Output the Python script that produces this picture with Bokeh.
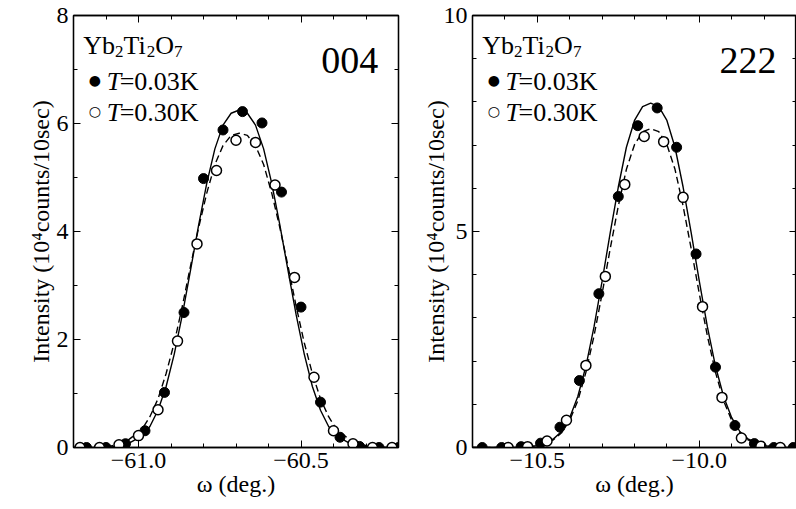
from bokeh.plotting import figure
from bokeh.layouts import row
from bokeh.models import SingleIntervalTicker, LinearAxis, Label, Range1d, CustomJSTickFormatter
from bokeh.embed import file_html
from bokeh.resources import INLINE

FONT = "Liberation Serif"

# ---------------- panel 004 ----------------
x_range_004 = (-61.2, -60.2)
y_range_004 = (0, 8)
filled_x_004 = [-61.16, -61.10, -61.04, -60.98, -60.92, -60.86, -60.80, -60.74, -60.68,
                -60.62, -60.56, -60.50, -60.44, -60.38, -60.32, -60.26, -60.20]
filled_y_004 = [0.0, 0.0, 0.07, 0.31, 1.02, 2.50, 4.98, 5.88, 6.22,
                6.01, 4.73, 2.60, 0.84, 0.19, 0.02, 0.0, 0.0]
open_x_004 = [-61.18, -61.12, -61.06, -61.00, -60.94, -60.88, -60.82, -60.76, -60.70,
              -60.64, -60.58, -60.52, -60.46, -60.40, -60.34, -60.28, -60.22]
open_y_004 = [0.0, 0.0, 0.05, 0.22, 0.70, 1.97, 3.77, 5.13, 5.69,
              5.65, 4.86, 3.15, 1.30, 0.31, 0.07, 0.0, 0.0]
fit_x_004 = [-61.2, -61.14, -61.09, -61.04, -60.99, -60.965, -60.94, -60.915, -60.89, -60.865,
             -60.84, -60.815, -60.79, -60.765, -60.74, -60.715, -60.69, -60.665, -60.64, -60.615,
             -60.59, -60.565, -60.54, -60.515, -60.49, -60.465, -60.44, -60.415, -60.39, -60.34,
             -60.29, -60.24, -60.2]
fit_solid_004 = [0, 0, 0.007, 0.045, 0.21, 0.39, 0.69, 1.13, 1.73, 2.46,
                 3.28, 4.12, 4.89, 5.53, 5.97, 6.19, 6.25, 6.19, 5.97, 5.53,
                 4.89, 4.12, 3.28, 2.46, 1.73, 1.13, 0.69, 0.39, 0.21, 0.045,
                 0.007, 0, 0]
fit_dashed_004 = [0, 0, 0.02, 0.10, 0.33, 0.57, 0.90, 1.37, 1.94, 2.62,
                  3.36, 4.07, 4.71, 5.24, 5.59, 5.78, 5.82, 5.78, 5.59, 5.24,
                  4.71, 4.07, 3.36, 2.62, 1.94, 1.37, 0.90, 0.57, 0.33, 0.10,
                  0.02, 0, 0]

# ---------------- panel 222 ----------------
x_range_222 = (-10.7, -9.7)
y_range_222 = (0, 10)
filled_x_222 = [-10.67, -10.61, -10.55, -10.49, -10.43, -10.37, -10.31, -10.25, -10.19,
                -10.13, -10.07, -10.01, -9.95, -9.89, -9.83, -9.77, -9.71]
filled_y_222 = [0.0, 0.0, 0.02, 0.10, 0.47, 1.55, 3.56, 5.81, 7.45,
                7.86, 6.95, 4.48, 1.86, 0.51, 0.09, 0.0, 0.0]
open_x_222 = [-10.59, -10.53, -10.47, -10.41, -10.35, -10.29, -10.23, -10.17,
              -10.11, -10.05, -9.99, -9.93, -9.87, -9.81, -9.75]
open_y_222 = [0.0, 0.02, 0.15, 0.63, 1.90, 3.96, 6.09, 7.20,
              7.08, 5.79, 3.26, 1.16, 0.22, 0.03, 0.0]
fit_x_222 = [-10.7, -10.6, -10.55, -10.5, -10.45, -10.425, -10.4, -10.375, -10.35, -10.325,
             -10.3, -10.275, -10.25, -10.225, -10.2, -10.175, -10.15, -10.125, -10.1, -10.075,
             -10.05, -10.025, -10.0, -9.975, -9.95, -9.925, -9.9, -9.875, -9.85, -9.8,
             -9.75, -9.7]
fit_solid_222 = [0, 0, 0, 0.04, 0.20, 0.37, 0.69, 1.18, 1.88, 2.79,
                 3.85, 4.97, 6.03, 6.95, 7.57, 7.89, 7.97, 7.89, 7.57, 6.95,
                 6.03, 4.97, 3.85, 2.79, 1.88, 1.18, 0.69, 0.37, 0.20, 0.04,
                 0, 0]
fit_dashed_222 = [0, 0, 0, 0.04, 0.18, 0.34, 0.63, 1.08, 1.74, 2.58,
                  3.56, 4.60, 5.59, 6.44, 7.01, 7.31, 7.38, 7.31, 7.01, 6.44,
                  5.59, 4.60, 3.56, 2.58, 1.74, 1.08, 0.63, 0.34, 0.18, 0.04,
                  0, 0]

# compound name as (text, is_subscript) pieces: Yb2Ti2O7
compound_parts = [("Yb", False), ("2", True), ("Ti", False), ("2", True), ("O", False), ("7", True)]
legend_labels = ["=0.03K", "=0.30K"]
y_label = "Intensity (10\u2074counts/10sec)"
x_label = "\u03c9 (deg.)"

minus_fmt = CustomJSTickFormatter(code="return tick.toFixed(1).replace('-', '\u2212');")
blank_fmt = CustomJSTickFormatter(code="return '';")

TICK_FS = "24px"
MAIN_FS = 26
SUB_FS = 17
# glyph advance widths (em) for Liberation Serif
ADV = {"Y": 0.722, "b": 0.5, "T": 0.611, "i": 0.278, "O": 0.722, "2": 0.5, "7": 0.5}


def style_axis(ax, show_labels):
    ax.axis_line_color = "black"
    ax.axis_line_width = 1.3
    ax.major_tick_in = 7
    ax.major_tick_out = 0
    ax.minor_tick_in = 4
    ax.minor_tick_out = 0
    ax.major_tick_line_color = "black"
    ax.minor_tick_line_color = "black"
    ax.major_label_text_font = FONT
    ax.major_label_text_color = "black"
    ax.axis_label_text_font = FONT
    ax.axis_label_text_font_style = "normal"
    ax.axis_label_text_color = "black"
    ax.major_label_text_font_size = TICK_FS
    ax.axis_label_text_font_size = TICK_FS
    if not show_labels:
        ax.formatter = blank_fmt
        ax.major_label_standoff = 0


def make_panel(xr, yr, yint, fx, fy, ox, oy, cx, cs, cd, width, border_left, border_right,
               title_txt, yl_stand):
    p = figure(width=width, height=509, x_range=Range1d(*xr), y_range=Range1d(*yr),
               output_backend="svg", toolbar_location=None,
               min_border_left=border_left, min_border_right=border_right,
               min_border_top=15, min_border_bottom=62)
    p.xaxis.visible = False
    p.yaxis.visible = False
    p.grid.visible = False
    p.outline_line_color = "black"
    p.outline_line_width = 1.3
    p.background_fill_color = "white"
    p.border_fill_color = "white"

    xt = SingleIntervalTicker(interval=0.5, num_minor_ticks=5)
    yt = SingleIntervalTicker(interval=yint, num_minor_ticks=yint)

    bx = LinearAxis(ticker=xt, formatter=minus_fmt, axis_label=x_label)
    style_axis(bx, True)
    bx.major_label_standoff = 5
    bx.axis_label_standoff = 0
    p.add_layout(bx, "below")
    tx = LinearAxis(ticker=xt)
    style_axis(tx, False)
    p.add_layout(tx, "above")
    ly = LinearAxis(ticker=yt, axis_label=y_label)
    style_axis(ly, True)
    ly.major_label_standoff = 5
    ly.axis_label_standoff = yl_stand
    p.add_layout(ly, "left")
    ry = LinearAxis(ticker=yt)
    style_axis(ry, False)
    p.add_layout(ry, "right")

    p.line(cx, cs, line_color="black", line_width=1.4)
    p.line(cx, cd, line_color="black", line_width=1.4, line_dash="7 4")
    p.scatter(fx, fy, size=10, fill_color="black", line_color="black", line_width=1)
    p.scatter(ox, oy, size=10, fill_color="white", line_color="black", line_width=1.5)

    # texts: placed relative to the frame fractions
    x0, x1 = xr
    y0, y1 = yr
    fxp = lambda f: x0 + f * (x1 - x0)
    fyp = lambda f: y0 + f * (y1 - y0)

    off = 0.0
    for txt, sub in compound_parts:
        fs = SUB_FS if sub else MAIN_FS
        p.add_layout(Label(x=fxp(0.03), y=fyp(0.93), x_offset=off, y_offset=-6 if sub else 0,
                           text=txt, text_font=FONT, text_font_size=f"{fs}px",
                           text_color="black", text_baseline="alphabetic"))
        off += sum(ADV[c] for c in txt) * fs

    for i, lab in enumerate(legend_labels):
        yb = fyp(0.848 - i * 0.0717)
        p.add_layout(Label(x=fxp(0.066), y=yb, text=["\u25cf", "\u25cb"][i],
                           text_font="DejaVu Sans", text_font_size="14px", text_color="black",
                           text_align="center", text_baseline="alphabetic", y_offset=1))
        p.add_layout(Label(x=fxp(0.102), y=yb, text="T", text_font=FONT, text_font_style="italic",
                           text_font_size=f"{MAIN_FS}px", text_color="black",
                           text_baseline="alphabetic"))
        p.add_layout(Label(x=fxp(0.102), y=yb, x_offset=13, text=lab, text_font=FONT,
                           text_font_size=f"{MAIN_FS}px", text_color="black",
                           text_baseline="alphabetic"))
    p.add_layout(Label(x=fxp(0.938), y=fyp(0.896), text=title_txt, text_font=FONT,
                       text_font_size="38px", text_color="black", text_align="right",
                       text_baseline="alphabetic"))
    return p


p1 = make_panel(x_range_004, y_range_004, 2, filled_x_004, filled_y_004, open_x_004, open_y_004,
                fit_x_004, fit_solid_004, fit_dashed_004, 400, 73, 2, "004", 0)
p2 = make_panel(x_range_222, y_range_222, 5, filled_x_222, filled_y_222, open_x_222, open_y_222,
                fit_x_222, fit_solid_222, fit_dashed_222, 396, 72, 0, "222", -8)

layout = row(p1, p2, spacing=0)
open("out.html", "w").write(file_html(layout, INLINE))
